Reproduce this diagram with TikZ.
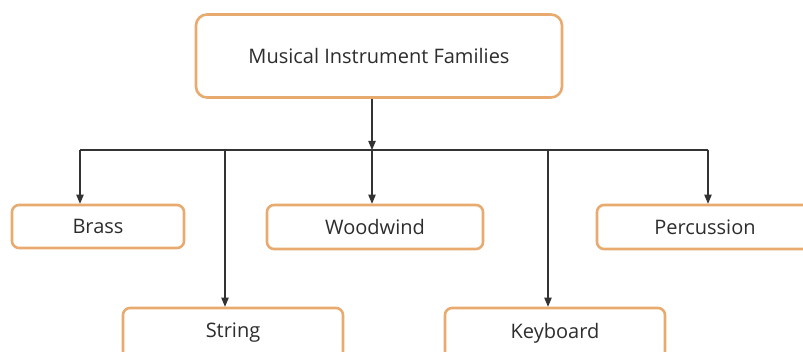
\documentclass[tikz,border=0pt]{standalone}
\usepackage{fontspec}
\setmainfont{Open Sans}
\usepackage{tikz}
\usetikzlibrary{arrows}

\definecolor{famedge}{RGB}{232,170,110}
\definecolor{famtext}{RGB}{45,45,45}

\tikzset{
    family/.style={draw=famedge, line width=2.6pt, rounded corners=7pt,
        fill=white, text=famtext, font=\fontsize{20}{24}\selectfont,
        inner sep=0pt},
    link/.style={line width=1.1pt, draw=black!80},
    drop/.style={link, -triangle 45}
}

\begin{document}
\begin{tikzpicture}[x=1pt, y=-1pt]

\clip (0,0) rectangle (803,351);
\fill[white] (0,0) rectangle (803,351);

\node [family, rounded corners=11pt, minimum width=366pt, minimum height=83pt] (fam) at (379,56) {Musical Instrument Families};

\node [family, minimum width=172pt, minimum height=43pt] (brass)  at (98,226.5)  {Brass};
\node [family, minimum width=216pt, minimum height=44pt] (wood)   at (375,227)   {Woodwind};
\node [family, minimum width=216pt, minimum height=44pt] (perc)   at (705,227)   {Percussion};
\node [family, minimum width=220pt, minimum height=50pt] (string) at (233,333)   {String};
\node [family, minimum width=220pt, minimum height=50pt] (keyb)   at (555,333)   {Keyboard};

% junction of the bar
\coordinate (j) at (372,150);
\coordinate (bl) at (80,150);
\coordinate (br) at (708,150);

\draw [drop] (fam.south -| j) -- (j);
\draw [link] (bl) -- (br);

\coordinate (sj) at (225,150);
\coordinate (kj) at (548,150);

\draw [drop] (bl) -- (bl |- brass.north);
\draw [drop] (sj) -- (sj |- string.north);
\draw [drop] (j)  -- (j |- wood.north);
\draw [drop] (kj) -- (kj |- keyb.north);
\draw [drop] (br) -- (br |- perc.north);

\end{tikzpicture}
\end{document}
